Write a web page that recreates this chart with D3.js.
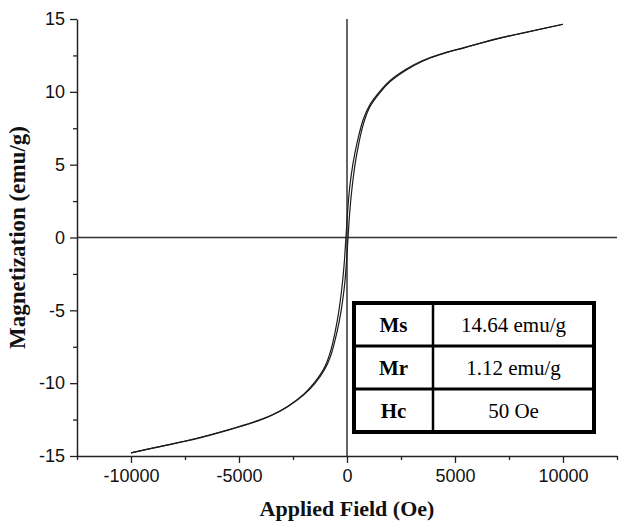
<!DOCTYPE html>
<html>
<head>
<meta charset="utf-8">
<script src="https://cdn.jsdelivr.net/npm/d3@7"></script>
<style>
  body { margin: 0; background: #fff; }
  svg { display: block; }
</style>
</head>
<body>
<div id="chart"></div>
<script>
const width = 619;
const height = 523;

// descending branch (+10 kOe -> -10 kOe)
const fieldDown = [10000, 8500, 7000, 5500, 4300, 3500, 2750, 2000, 1500, 1050, 750, 450, 280, 130, 50, 0,
  -50, -130, -280, -450, -750, -1050, -1500, -2000, -2750, -3500, -4300, -5500, -7000, -8500, -10000];
const magDown = [14.64, 14.16, 13.67, 13.07, 12.58, 12.15, 11.56, 10.78, 10.0, 9.1, 8.1, 6.4, 5.1, 3.5, 2.2, 1.12,
  0, -1.8, -4.0, -5.7, -7.75, -8.95, -9.95, -10.75, -11.6, -12.2, -12.65, -13.2, -13.8, -14.3, -14.78];

// ascending branch (-10 kOe -> +10 kOe)
const fieldUp = [-10000, -8500, -7000, -5500, -4300, -3500, -2750, -2000, -1500, -1050, -750, -450, -280, -130, -50, 0,
  50, 130, 280, 450, 750, 1050, 1500, 2000, 2750, 3500, 4300, 5500, 7000, 8500, 10000];
const magUp = [-14.78, -14.3, -13.82, -13.22, -12.68, -12.22, -11.62, -10.8, -10.05, -9.1, -8.1, -6.4, -5.1, -3.5, -2.2, -1.12,
  0, 1.8, 4.0, 5.7, 7.75, 8.95, 9.9, 10.7, 11.5, 12.1, 12.55, 13.05, 13.65, 14.15, 14.64];

const xTicks = [-10000, -5000, 0, 5000, 10000];
const xMinor = [-12500, -7500, -2500, 2500, 7500, 12500];
const yTicks = [-15, -10, -5, 0, 5, 10, 15];
const yMinor = [-12.5, -7.5, -2.5, 2.5, 7.5, 12.5];

const tableLabels = ["Ms", "Mr", "Hc"];
const tableValues = ["14.64 emu/g", "1.12 emu/g", "50 Oe"];

const margin = { top: 19, right: 2, bottom: 67, left: 77 };

const x = d3.scaleLinear().domain([-12500, 12500]).range([margin.left, width - margin.right]);
const y = d3.scaleLinear().domain([-15, 15]).range([height - margin.bottom, margin.top]);

const svg = d3.select("#chart").append("svg")
  .attr("width", width)
  .attr("height", height)
  .attr("viewBox", [0, 0, width, height]);

const tickFont = "'Liberation Sans', Arial, sans-serif";
const titleFont = "'Liberation Serif', 'Times New Roman', serif";
const minus = d => d < 0 ? "-" + Math.abs(d) : d;

// zero lines
svg.append("line")
  .attr("x1", x.range()[0]).attr("x2", x.range()[1])
  .attr("y1", y(0)).attr("y2", y(0))
  .attr("stroke", "#333").attr("stroke-width", 1.5);
svg.append("line")
  .attr("x1", x(0)).attr("x2", x(0))
  .attr("y1", y.range()[1]).attr("y2", y.range()[0])
  .attr("stroke", "#333").attr("stroke-width", 1.5);

// minor ticks
svg.append("g")
  .attr("transform", `translate(0,${y.range()[0]})`)
  .call(d3.axisBottom(x).tickValues(xMinor).tickSize(4).tickFormat(""))
  .call(g => g.select(".domain").remove());
svg.append("g")
  .attr("transform", `translate(${x.range()[0]},0)`)
  .call(d3.axisLeft(y).tickValues(yMinor).tickSize(4).tickFormat(""))
  .call(g => g.select(".domain").remove());

// major axes
svg.append("g")
  .attr("transform", `translate(0,${y.range()[0]})`)
  .call(d3.axisBottom(x).tickValues(xTicks).tickSize(7).tickSizeOuter(0).tickPadding(6).tickFormat(minus));
svg.append("g")
  .attr("transform", `translate(${x.range()[0]},0)`)
  .call(d3.axisLeft(y).tickValues(yTicks).tickSize(7).tickSizeOuter(0).tickPadding(5).tickFormat(minus));

svg.selectAll(".tick line").attr("stroke", "#222").attr("stroke-width", 1.3);
svg.selectAll(".domain").attr("stroke", "#222").attr("stroke-width", 1.5);
svg.selectAll(".tick text")
  .attr("font-family", tickFont)
  .attr("font-size", 18)
  .attr("fill", "#111");

// hysteresis loop
const line = d3.line()
  .x(d => x(d[0]))
  .y(d => y(d[1]))
  .curve(d3.curveCatmullRom.alpha(0.5));

const down = fieldDown.map((h, i) => [h, magDown[i]]);
const up = fieldUp.map((h, i) => [h, magUp[i]]);

[down, up].forEach(pts => {
  svg.append("path")
    .datum(pts)
    .attr("fill", "none")
    .attr("stroke", "#1a1a1a")
    .attr("stroke-width", 1.2)
    .attr("d", line);
});

// axis titles
svg.append("text")
  .attr("x", x(0))
  .attr("y", 516)
  .attr("text-anchor", "middle")
  .attr("font-family", titleFont)
  .attr("font-weight", "bold")
  .attr("font-size", 22)
  .attr("fill", "#111")
  .text("Applied Field (Oe)");

svg.append("text")
  .attr("transform", `translate(25,${y(0)}) rotate(-90)`)
  .attr("text-anchor", "middle")
  .attr("font-family", titleFont)
  .attr("font-weight", "bold")
  .attr("font-size", 23)
  .attr("fill", "#111")
  .text("Magnetization (emu/g)");

// parameters table
const tbl = { left: 354, top: 303, colSplit: 433, right: 594, rowH: 43 };
const tg = svg.append("g");
tableLabels.forEach((lab, i) => {
  const cy = tbl.top + tbl.rowH * i + tbl.rowH / 2;
  tg.append("text")
    .attr("x", (tbl.left + tbl.colSplit) / 2)
    .attr("y", cy)
    .attr("dy", "0.35em")
    .attr("text-anchor", "middle")
    .attr("font-family", titleFont)
    .attr("font-weight", "bold")
    .attr("font-size", 21)
    .text(lab);
  tg.append("text")
    .attr("x", (tbl.colSplit + tbl.right) / 2)
    .attr("y", cy)
    .attr("dy", "0.35em")
    .attr("text-anchor", "middle")
    .attr("font-family", titleFont)
    .attr("font-size", 21)
    .text(tableValues[i]);
  if (i > 0) {
    tg.append("line")
      .attr("x1", tbl.left).attr("x2", tbl.right)
      .attr("y1", tbl.top + tbl.rowH * i).attr("y2", tbl.top + tbl.rowH * i)
      .attr("stroke", "#000").attr("stroke-width", 3);
  }
});
tg.append("line")
  .attr("x1", tbl.colSplit).attr("x2", tbl.colSplit)
  .attr("y1", tbl.top).attr("y2", tbl.top + tbl.rowH * tableLabels.length)
  .attr("stroke", "#000").attr("stroke-width", 2.5);
tg.append("rect")
  .attr("x", tbl.left).attr("y", tbl.top)
  .attr("width", tbl.right - tbl.left)
  .attr("height", tbl.rowH * tableLabels.length)
  .attr("fill", "none")
  .attr("stroke", "#000")
  .attr("stroke-width", 4);
</script>
</body>
</html>
